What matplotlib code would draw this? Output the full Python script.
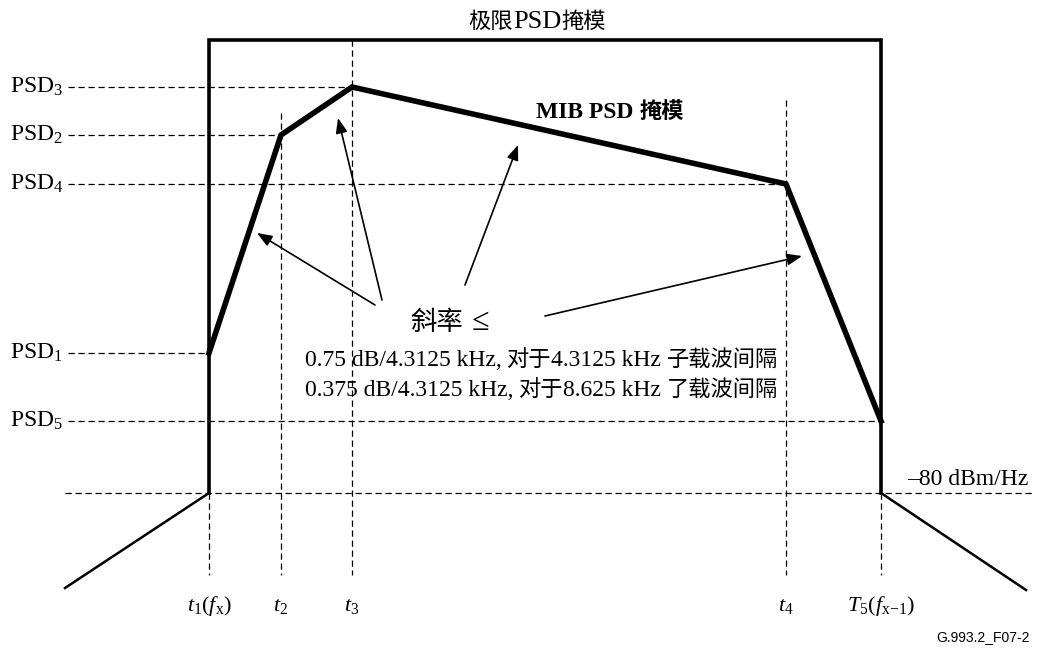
import matplotlib
matplotlib.use("Agg")
import matplotlib.pyplot as plt

plt.rcParams['font.family'] = ['Liberation Serif', 'Noto Sans CJK SC']
plt.rcParams['mathtext.fontset'] = 'custom'
plt.rcParams['mathtext.rm'] = 'Liberation Serif'
plt.rcParams['mathtext.it'] = 'Liberation Serif:italic'

# breakpoints of the MIB mask (frequency position, PSD level), drawing units
t_pos = [209, 281, 352, 786, 881]
t_labels = [r'$t_1(f_\mathrm{x})$', r'$t_2$', r'$t_3$', r'$t_4$', r'$T_5(f_{\mathrm{x}\!-\!1})$']
psd_level = [353, 135, 87, 184, 421]
psd_labels = ['PSD$_1$', 'PSD$_2$', 'PSD$_3$', 'PSD$_4$', 'PSD$_5$']

limit_top = 40
floor_level = 493          # -80 dBm/Hz
outer_x = [65, 1026]
outer_y = [588, 590]

LAT = 17   # latin text size
CJK = 16   # chinese text size

# (text, size, gap after) pieces of the mixed latin / chinese labels
title_parts = [('极限', CJK, 0), ('PSD', 19, 0), ('掩模', CJK, 0)]
mib_parts = [('MIB PSD', LAT, 7), ('掩模', CJK, 0)]
slope_head = [('斜率', 19, 8), ('≤', 23, 0)]
slope_line1 = [('0.75 dB/4.3125 kHz,', LAT, 5), ('对于', CJK, 0),
               ('4.3125 kHz', LAT, 6), ('子载波间隔', CJK, 0)]
slope_line2 = [('0.375 dB/4.3125 kHz,', LAT, 5), ('对于', CJK, 0),
               ('8.625 kHz', LAT, 6), ('了载波间隔', CJK, 0)]

fig = plt.figure(figsize=(10.44, 6.51), dpi=100)
ax = fig.add_axes([0, 0, 1, 1])
ax.set_xlim(0, 1044)
ax.set_ylim(651, 0)
ax.axis('off')
renderer = fig.canvas.get_renderer()


def mixed_text(x, y, parts, ha='left', **kw):
    # place pieces one after another on a common baseline (1 data unit = 1 px)
    arts = [ax.text(x, y, s, fontsize=size, va='baseline', ha='left', **kw)
            for s, size, gap in parts]
    widths = [a.get_window_extent(renderer).width + gap
              for a, (s, size, gap) in zip(arts, parts)]
    cur = x - sum(widths) / 2 if ha == 'center' else x
    for a, w in zip(arts, widths):
        a.set_x(cur)
        cur += w


dash = dict(color='black', lw=0.9, ls=(0, (5, 3)))

# floor line
ax.plot([65, 1032], [floor_level, floor_level], **dash)

# dashed guides for PSD levels
for x, y in zip(t_pos, psd_level):
    ax.plot([68, x], [y, y], **dash)

# dashed verticals for t positions
v_top = [floor_level, 113, limit_top, 100, floor_level]
for x, top in zip(t_pos, v_top):
    ax.plot([x, x], [top, 575], **dash)

# limit PSD mask
ax.plot([t_pos[0], t_pos[0], t_pos[-1], t_pos[-1]],
        [floor_level, limit_top, limit_top, floor_level],
        color='black', lw=2.6, solid_joinstyle='miter')

# out-of-band slopes
ax.plot([outer_x[0], t_pos[0]], [outer_y[0], floor_level], color='black', lw=1.8)
ax.plot([t_pos[-1], outer_x[1]], [floor_level, outer_y[1]], color='black', lw=1.8)

# MIB mask
ax.plot(t_pos, psd_level, color='black', lw=4, solid_joinstyle='miter')

# labels
for y, lab in zip(psd_level, psd_labels):
    ax.text(10, y + 6, lab, fontsize=LAT, va='baseline', ha='left')
for x, lab in zip(t_pos, t_labels):
    ax.text(x, 611, lab, fontsize=16, ha='center', va='baseline')

mixed_text(537, 28, title_parts, ha='center')
mixed_text(610, 118, mib_parts, ha='center', fontweight='bold')
mixed_text(450, 330, slope_head, ha='center')
mixed_text(305, 366, slope_line1)
mixed_text(305, 396, slope_line2)
ax.text(1028, 485, '–80 dBm/Hz', fontsize=LAT, ha='right', va='baseline')
ax.text(1030, 637, 'G.993.2_F07-2', fontsize=10, ha='right', va='center',
        family='Liberation Sans')

# slope arrows
arrows = [((375, 305), (257, 233)), ((382, 300), (338, 118)),
          ((465, 285), (518, 145)), ((545, 316), (802, 256))]
for start, end in arrows:
    ax.annotate('', xy=end, xytext=start,
                arrowprops=dict(arrowstyle='-|>,head_length=0.9,head_width=0.35',
                                color='black', lw=1.2, shrinkA=0, shrinkB=0))

fig.savefig('out.png', dpi=100)
